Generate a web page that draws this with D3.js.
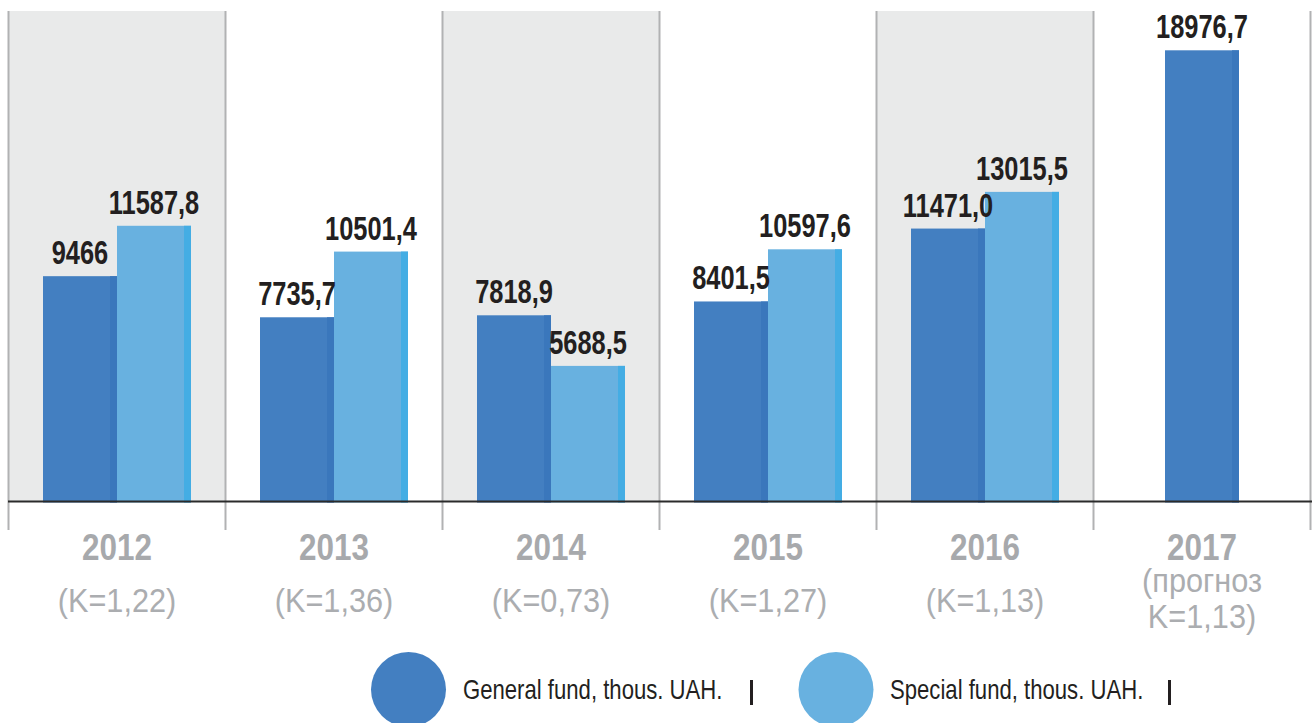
<!DOCTYPE html>
<html><head><meta charset="utf-8">
<script src="https://cdn.jsdelivr.net/npm/d3@7"></script>
<style>
html,body{margin:0;padding:0;background:#fff;}
svg{display:block;}
</style></head>
<body>
<svg id="chart" width="1312" height="723"></svg>
<script>
const years = ["2012","2013","2014","2015","2016","2017"];
const kLabels = [["(K=1,22)"],["(K=1,36)"],["(K=0,73)"],["(K=1,27)"],["(K=1,13)"],["(прогноз","K=1,13)"]];
const generalValues = [9466, 7735.7, 7818.9, 8401.5, 11471.0, 18976.7];
const generalLabels = ["9466","7735,7","7818,9","8401,5","11471,0","18976,7"];
const specialValues = [11587.8, 10501.4, 5688.5, 10597.6, 13015.5, null];
const specialLabels = ["11587,8","10501,4","5688,5","10597,6","13015,5",null];
const seriesNames = ["General fund, thous. UAH.","Special fund, thous. UAH."];

const colors = {general:"#437fc1", generalEdge:"#3a77bc", special:"#68b1e0", specialEdge:"#44ade4"};
const font = "'Liberation Sans',Arial,sans-serif";

const svg = d3.select("#chart");
const baseY = 501;
const x = d3.scaleBand().domain(years).range([8.5, 1310.5]).paddingInner(0).paddingOuter(0);
const inner = d3.scaleBand().domain(["general","special"]).range([34.5, 182.5]);
const y = d3.scaleLinear().domain([0, 20000]).range([baseY, 26]);

function ctext(sel, tx, ty, sx){
  return sel.append("text").attr("transform", `translate(${tx},${ty}) scale(${sx},1)`);
}

// alternating bands
svg.append("g").selectAll("rect").data(years.filter((d,i)=>i%2===0)).join("rect")
  .attr("x", d=>x(d)).attr("y", 11).attr("width", x.bandwidth()).attr("height", baseY-11)
  .attr("fill", "#e9eaea");

// dividers
const edges = years.map(d=>x(d)).concat([x(years[years.length-1])+x.bandwidth()]);
svg.append("g").selectAll("line").data(edges).join("line")
  .attr("x1", d=>d).attr("x2", d=>d).attr("y1", 11).attr("y2", 530)
  .attr("stroke", "#b1b2b3").attr("stroke-width", 2);

// bars
const rows = [];
years.forEach((yr,i)=>{
  const single = specialValues[i] == null;
  const bw = inner.bandwidth();
  const gx = single ? x(yr) + (x.bandwidth()-bw)/2 : x(yr)+inner("general");
  rows.push({key:"general", yr, v:generalValues[i], label:generalLabels[i], x:gx, w:bw});
  if(!single) rows.push({key:"special", yr, v:specialValues[i], label:specialLabels[i], x:x(yr)+inner("special"), w:bw});
});
const stripe = 7;
const bars = svg.append("g").selectAll("g").data(rows).join("g");
bars.append("rect").attr("x", d=>d.x).attr("y", d=>y(d.v)).attr("width", d=>d.w).attr("height", d=>baseY+1.5-y(d.v))
  .attr("fill", d=>colors[d.key]);
bars.append("rect").attr("x", d=>d.x+d.w-stripe).attr("y", d=>y(d.v)).attr("width", stripe).attr("height", d=>baseY+1.5-y(d.v))
  .attr("fill", d=>colors[d.key+"Edge"]);

// value labels on top layer
const labelLayer = svg.append("g");
rows.forEach(d=>{
  ctext(labelLayer, d.x+d.w/2, y(d.v)-12, 0.77)
    .attr("text-anchor","middle").attr("font-family", font).attr("font-weight","bold")
    .attr("font-size", 33).attr("fill", "#231f20").text(d.label);
});

// baseline
svg.append("line").attr("x1", 8).attr("x2", 1312).attr("y1", baseY+0.5).attr("y2", baseY+0.5)
  .attr("stroke", "#2b2b2b").attr("stroke-width", 2);

// year labels
const yl = svg.append("g").selectAll("g").data(years).join("g");
yl.each(function(d,i){
  const g = d3.select(this);
  const cx = x(d)+x.bandwidth()/2;
  ctext(g, cx, 560, 0.85).attr("text-anchor","middle")
    .attr("font-family", font).attr("font-weight","bold").attr("font-size", 37)
    .attr("fill", "#a7a9ac").text(d);
  const lines = kLabels[i];
  const ys = lines.length === 1 ? [612] : [592, 628];
  lines.forEach((t,j)=>{
    ctext(g, cx, ys[j], 0.93).attr("text-anchor","middle")
      .attr("font-family", font).attr("font-size", 33)
      .attr("fill", "#abadb0").text(t);
  });
});

// legend
const legend = [{name:seriesNames[0], cx:408.5, color:colors.general, tx:463, bar:750},
                {name:seriesNames[1], cx:836, color:colors.special, tx:890, bar:1168}];
const lg = svg.append("g").selectAll("g").data(legend).join("g");
lg.append("circle").attr("cx", d=>d.cx).attr("cy", 689.5).attr("r", 37.5).attr("fill", d=>d.color);
lg.each(function(d){
  ctext(d3.select(this), d.tx, 699, 0.82).attr("font-family", font)
    .attr("font-size", 27).attr("fill", "#231f20").text(d.name);
});
lg.append("rect").attr("x", d=>d.bar).attr("y", 680).attr("width", 3).attr("height", 25).attr("fill", "#231f20");
</script>
</body></html>
